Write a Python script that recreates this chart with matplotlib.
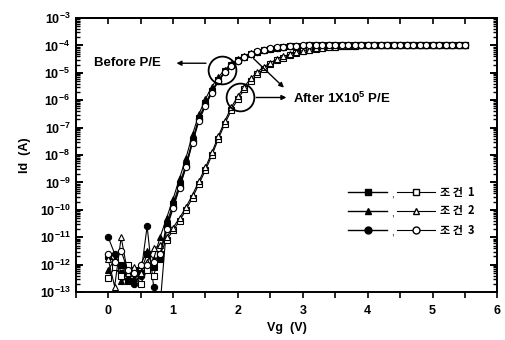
import numpy as np
import matplotlib
matplotlib.use("Agg")
import matplotlib.pyplot as plt
from matplotlib.ticker import FixedLocator, FuncFormatter, LogLocator, NullFormatter

plt.rcParams['font.family'] = ['Liberation Sans', 'DejaVu Sans']
plt.rcParams['mathtext.fontset'] = 'custom'
plt.rcParams['mathtext.rm'] = 'Liberation Sans'
plt.rcParams['mathtext.bf'] = 'Liberation Sans:bold'

# gate sweep 0 .. 5.5 V in 0.1 V steps
vg = np.round(np.arange(0, 5.55, 0.1), 1)

# log10(Id), 10 points per row
before_sq = [-11.7, -11.9, -12.0, -12.6, -12.2, -12.3, -11.6, -12.1, -11.8, -10.5,
             -9.8, -9.05, -8.35, -7.45, -6.65, -6.1, -5.65, -5.25, -4.95, -4.72,
             -4.55, -4.42, -4.32, -4.24, -4.17, -4.12, -4.08, -4.05, -4.03, -4.02,
             -4.01, -4.0, -4.0, -4.0, -4.0, -4.0, -4.0, -4.0, -4.0, -4.0,
             -4.0, -4.0, -4.0, -4.0, -4.0, -4.0, -4.0, -4.0, -4.0, -4.0,
             -4.0, -4.0, -4.0, -4.0, -4.0, -4.0]
before_tri = [-12.2, -11.8, -12.6, -12.5, -12.5, -12.0, -11.5, -11.8, -11.0, -10.3,
              -9.6, -8.85, -8.1, -7.25, -6.5, -5.95, -5.5, -5.15, -4.88, -4.67,
              -4.5, -4.38, -4.29, -4.21, -4.15, -4.11, -4.07, -4.05, -4.03, -4.02,
              -4.01, -4.0, -4.0, -4.0, -4.0, -4.0, -4.0, -4.0, -4.0, -4.0,
              -4.0, -4.0, -4.0, -4.0, -4.0, -4.0, -4.0, -4.0, -4.0, -4.0,
              -4.0, -4.0, -4.0, -4.0, -4.0, -4.0]
before_cir = [-11.0, -11.6, -12.3, -12.3, -12.7, -12.4, -10.6, -12.8, -13.5, -10.6,
              -9.9, -9.15, -8.4, -7.5, -6.7, -6.15, -5.7, -5.3, -4.98, -4.74,
              -4.57, -4.43, -4.33, -4.24, -4.17, -4.12, -4.08, -4.05, -4.03, -4.02,
              -4.01, -4.0, -4.0, -4.0, -4.0, -4.0, -4.0, -4.0, -4.0, -4.0,
              -4.0, -4.0, -4.0, -4.0, -4.0, -4.0, -4.0, -4.0, -4.0, -4.0,
              -4.0, -4.0, -4.0, -4.0, -4.0, -4.0]
after_sq = [-12.5, -12.1, -12.4, -12.0, -12.3, -12.7, -12.2, -12.4, -11.6, -11.1,
            -10.75, -10.4, -10.0, -9.55, -9.05, -8.55, -8.0, -7.4, -6.85, -6.35,
            -5.95, -5.6, -5.3, -5.05, -4.85, -4.68, -4.55, -4.45, -4.36, -4.28,
            -4.22, -4.17, -4.13, -4.1, -4.07, -4.05, -4.03, -4.02, -4.01, -4.0,
            -4.0, -4.0, -4.0, -4.0, -4.0, -4.0, -4.0, -4.0, -4.0, -4.0,
            -4.0, -4.0, -4.0, -4.0, -4.0, -4.0]
after_tri = [-11.8, -12.8, -11.0, -12.3, -12.1, -12.3, -11.9, -11.4, -11.3, -11.0,
             -10.65, -10.3, -9.9, -9.45, -8.95, -8.45, -7.9, -7.3, -6.75, -6.25,
             -5.85, -5.5, -5.2, -4.97, -4.78, -4.63, -4.5, -4.4, -4.32, -4.25,
             -4.19, -4.15, -4.11, -4.08, -4.06, -4.04, -4.03, -4.02, -4.01, -4.0,
             -4.0, -4.0, -4.0, -4.0, -4.0, -4.0, -4.0, -4.0, -4.0, -4.0,
             -4.0, -4.0, -4.0, -4.0, -4.0, -4.0]
after_cir = [-11.6, -11.9, -11.5, -12.2, -12.3, -12.0, -12.0, -11.9, -11.6, -10.7,
             -9.95, -9.2, -8.45, -7.55, -6.75, -6.2, -5.72, -5.3, -4.98, -4.74,
             -4.56, -4.42, -4.31, -4.22, -4.15, -4.1, -4.06, -4.04, -4.02, -4.01,
             -4.0, -4.0, -4.0, -4.0, -4.0, -4.0, -4.0, -4.0, -4.0, -4.0,
             -4.0, -4.0, -4.0, -4.0, -4.0, -4.0, -4.0, -4.0, -4.0, -4.0,
             -4.0, -4.0, -4.0, -4.0, -4.0, -4.0]

legend_labels = ["조 건  1", "조 건  2", "조 건  3"]
markers = ["s", "^", "o"]

# annotation anchors (Vg, log10 Id)
before_ring = (1.76, -4.88)
after_ring = (2.03, -5.9)

fig = plt.figure(figsize=(5.05, 3.4), dpi=100)
ax = fig.add_axes([0.150, 0.141, 0.835, 0.806])

before = [before_sq, before_tri, before_cir]
after = [after_sq, after_tri, after_cir]
for m, b in zip(markers, before):
    ax.plot(vg, 10.0 ** np.array(b), "-", color="black", lw=0.8, marker=m,
            ms=4.5, mfc="black", mec="black", mew=0.8)
for m, a in zip(markers, after):
    ax.plot(vg, 10.0 ** np.array(a), "-", color="black", lw=0.8, marker=m,
            ms=4.5, mfc="white", mec="black", mew=0.8)

ax.set_yscale("log")
ax.set_xlim(-0.5, 6)
ax.set_ylim(1e-13, 1e-3)

ax.xaxis.set_major_locator(FixedLocator([0, 1, 2, 3, 4, 5, 6]))
ax.xaxis.set_minor_locator(FixedLocator([-0.5, 0.5, 1.5, 2.5, 3.5, 4.5, 5.5]))
ax.yaxis.set_major_locator(LogLocator(base=10, numticks=20))
ax.yaxis.set_minor_locator(LogLocator(base=10, subs=np.arange(2, 10), numticks=20))
ax.yaxis.set_minor_formatter(NullFormatter())
ax.yaxis.set_major_formatter(FuncFormatter(
    lambda v, _: r"$\mathbf{10}^{\mathbf{%d}}$" % int(round(np.log10(v)))))

ax.tick_params(axis="x", which="both", bottom=True, top=False, direction="out",
               length=4, width=1.2, labelsize=9, pad=5)
ax.tick_params(axis="y", which="major", left=True, right=True, direction="in",
               length=5, width=1.4, labelsize=9, pad=4)
ax.tick_params(axis="y", which="minor", left=True, right=True, direction="in",
               length=3, width=1.0)
for lab in ax.get_xticklabels():
    lab.set_fontweight("bold")

# inward ticks along the top
topx = ax.secondary_xaxis("top")
topx.xaxis.set_major_locator(FixedLocator([-0.5, 0, 0.5, 1, 1.5, 2, 2.5, 3, 3.5, 4, 4.5, 5, 5.5, 6]))
topx.tick_params(direction="in", length=4, width=1.2, labeltop=False)
topx.spines["top"].set_linewidth(1.4)

for s in ax.spines.values():
    s.set_linewidth(1.4)

ax.set_xlabel("Vg  (V)", fontsize=9, fontweight="bold", labelpad=4)
ax.set_ylabel("Id  (A)", fontsize=9, fontweight="bold", labelpad=6)

# rings and arrows
for c in (before_ring, after_ring):
    ax.plot(c[0], 10.0 ** c[1], "o", ms=20, mfc="none", mec="black", mew=1.3, zorder=5)

arrow = dict(arrowstyle="-|>", color="black", lw=1.0, mutation_scale=7)
ax.text(-0.22, 10.0 ** -4.65, "Before P/E", fontsize=9.5, fontweight="bold",
        va="center", ha="left")
ax.annotate("", xy=(1.01, 10.0 ** -4.65), xytext=(1.55, 10.0 ** -4.65), arrowprops=arrow)
ax.text(2.85, 10.0 ** -5.92, r"After 1X10$^{\mathbf{5}}$ P/E", fontsize=9.5,
        fontweight="bold", va="center", ha="left")
ax.annotate("", xy=(2.79, 10.0 ** -5.9), xytext=(2.24, 10.0 ** -5.9), arrowprops=arrow)
ax.annotate("", xy=(2.74, 10.0 ** -5.61), xytext=(2.21, 10.0 ** -4.41), arrowprops=arrow)

# hand-made legend
rows_y = [0.365, 0.296, 0.226]
for y, m, lab in zip(rows_y, markers, legend_labels):
    ax.plot([0.646, 0.692, 0.739], [y, y, y], "-", color="black", lw=1.0,
            marker=m, markevery=[1], ms=5, mfc="black", mec="black",
            transform=ax.transAxes)
    ax.text(0.751, y - 0.008, ",", fontsize=7, transform=ax.transAxes,
            ha="center", va="center")
    ax.plot([0.763, 0.807, 0.851], [y, y, y], "-", color="black", lw=0.8,
            marker=m, markevery=[1], ms=5, mfc="white", mec="black",
            transform=ax.transAxes)
    ax.text(0.863, y, lab, fontsize=8, fontweight="bold",
            family=["Noto Sans CJK KR", "DejaVu Sans"],
            transform=ax.transAxes, ha="left", va="center")

fig.savefig("out.png", dpi=100)
